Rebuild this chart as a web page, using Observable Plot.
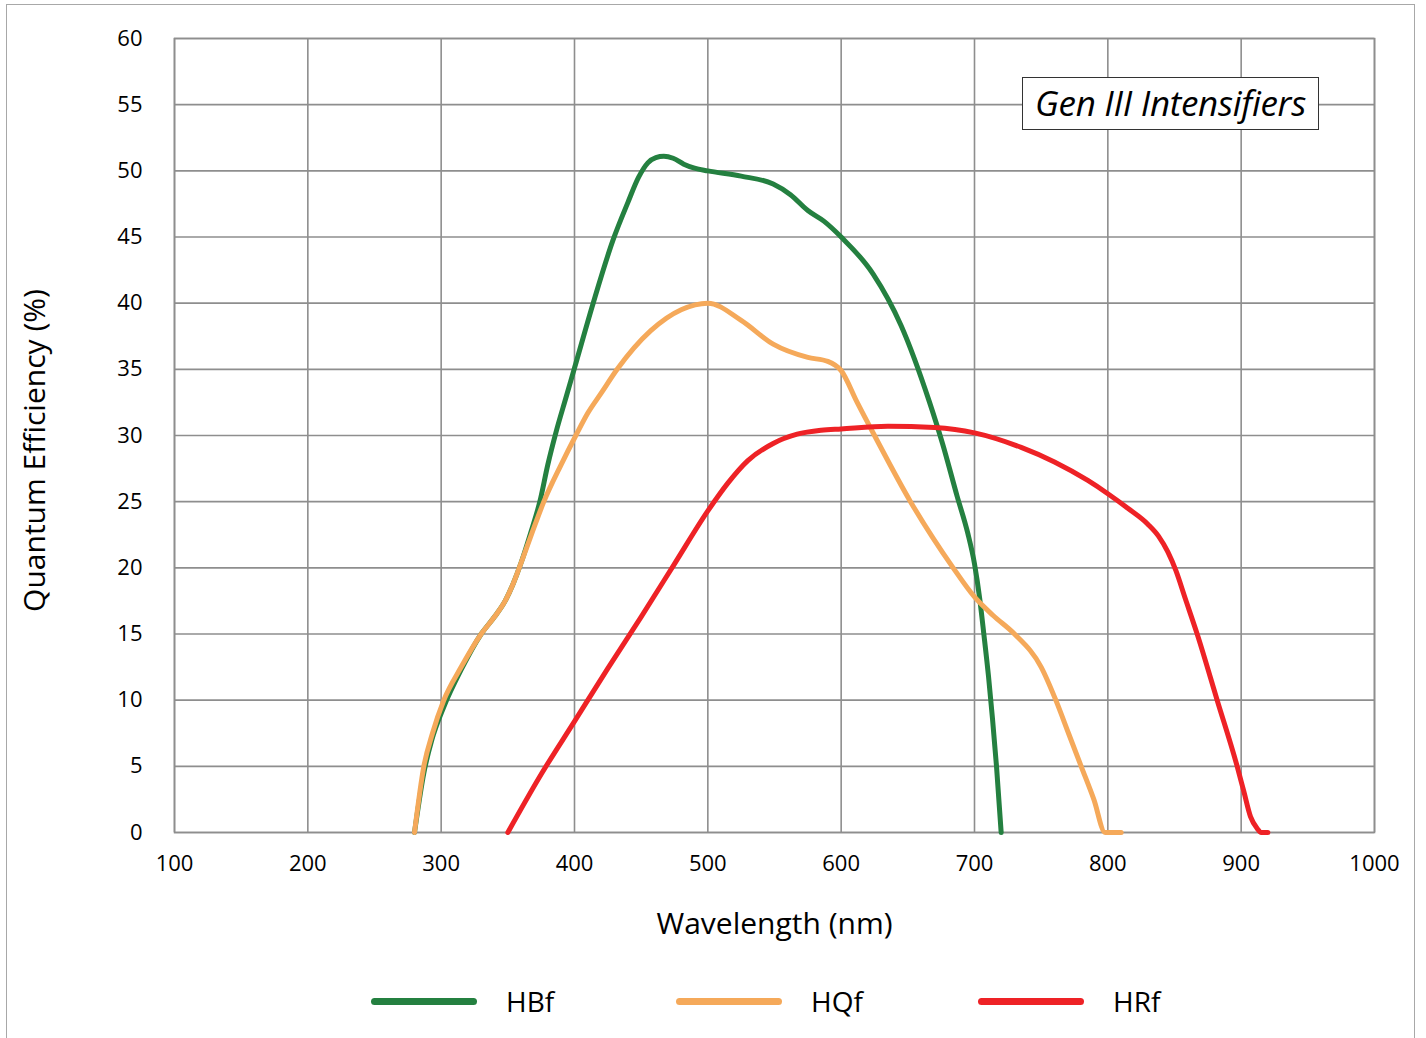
<!DOCTYPE html>
<html>
<head>
<meta charset="utf-8">
<script src="https://cdn.jsdelivr.net/npm/d3@7"></script>
<script src="https://cdn.jsdelivr.net/npm/@observablehq/plot@0.6"></script>
<style>
  html, body { margin: 0; padding: 0; background: #fff; }
  body { width: 1426px; height: 1038px; position: relative; overflow: hidden; font-family: "Open Sans", sans-serif; }
  #border { position: absolute; left: 6px; top: 4px; width: 1409px; height: 1100px; border: 1.5px solid #a8a8a8; box-sizing: border-box; }
  #chart { position: absolute; left: 0; top: 0; }
  #titlebox { position: absolute; left: 1022px; top: 77px; width: 297px; height: 53px; border: 1.3px solid #333; background: #fff; box-sizing: border-box;
    font-style: italic; font-size: 35px; line-height: 49px; text-align: center; color: #000; letter-spacing: -0.3px; white-space: nowrap; }
  #legend { position: absolute; left: 371px; top: 981px; display: flex; }
  .item { display: flex; align-items: center; width: 305px; height: 40px; }
  .item:nth-child(2) { width: 302px; }
  .swatch { width: 106px; height: 7px; border-radius: 4px; }
  .lab { margin-left: 29px; font-size: 28px; color: #000; }
</style>
</head>
<body>
<div id="border"></div>
<div id="chart"></div>
<div id="titlebox">Gen III Intensifiers</div>
<div id="legend"></div>
<script>
// ---- data ----
const seriesNames = ["HBf", "HQf", "HRf"];
const seriesColors = ["#248040", "#f5a95a", "#ee2226"];

const hbfWavelength = [280, 287, 293, 302, 315, 330, 340, 348, 354, 360, 367, 374, 380, 386, 394, 400, 414, 429, 440, 448, 455, 461, 467, 474, 482, 490, 500, 525, 549, 562, 575, 587, 600, 624, 645, 666, 676, 687, 695, 700, 704, 707, 710.5, 713.5, 716.5, 720];
const hbfQE         = [0, 4.5, 7, 9.5, 12.3, 15, 16.3, 17.5, 18.8, 20.4, 22.6, 25, 27.8, 30.2, 33, 35.1, 40, 44.8, 47.6, 49.5, 50.6, 51.0, 51.1, 50.95, 50.5, 50.2, 50, 49.6, 49, 48.2, 47, 46.2, 45, 42.2, 38.3, 32.6, 29.4, 25.4, 22.6, 20.3, 17.6, 15, 11.8, 8.6, 5, 0];

const hqfWavelength = [280, 287, 293.5, 302, 315, 330, 340, 348, 354, 360, 368, 377, 390, 401, 410, 420, 432, 457, 480, 500, 525, 549, 575, 590, 600, 612, 625, 652, 684, 700, 714, 730, 750, 761, 770.5, 780, 789.5, 798, 810];
const hqfQE         = [0, 5, 7.5, 10, 12.5, 15, 16.3, 17.5, 18.8, 20.4, 22.6, 25, 27.8, 30, 31.7, 33.2, 35, 37.9, 39.5, 40, 38.7, 36.9, 35.9, 35.6, 34.9, 32.5, 30, 25, 20, 17.8, 16.4, 15, 12.5, 10, 7.5, 5, 2.5, 0, 0];

const hrfWavelength = [350, 375, 400, 425, 450, 475, 500, 515, 530, 549, 567, 585, 600, 635, 670, 700, 735, 760, 785, 800, 815, 830, 838, 845, 851, 858, 867, 882, 897, 902, 907, 912, 915, 920];
const hrfQE         = [0, 4.4, 8.4, 12.4, 16.3, 20.3, 24.3, 26.4, 28.1, 29.4, 30.1, 30.4, 30.5, 30.7, 30.6, 30.2, 29.1, 28, 26.6, 25.6, 24.5, 23.3, 22.4, 21.2, 19.8, 17.7, 15, 10, 5, 3.1, 1.2, 0.3, 0, 0];

const xTicks = [100, 200, 300, 400, 500, 600, 700, 800, 900, 1000];
const yTicks = [0, 5, 10, 15, 20, 25, 30, 35, 40, 45, 50, 55, 60];
const xLabel = ["Wavelength (nm)"];
const yLabel = ["Quantum Efficiency (%)"];

// build table
const wl = [hbfWavelength, hqfWavelength, hrfWavelength];
const qe = [hbfQE, hqfQE, hrfQE];
const rows = [];
seriesNames.forEach((name, i) => {
  wl[i].forEach((w, j) => rows.push({series: name, wavelength: w, qe: qe[i][j]}));
});

const W = 1426, H = 960;
const chart = Plot.plot({
  width: W,
  height: H,
  marginLeft: 174,
  marginRight: 52,
  marginTop: 38,
  marginBottom: H - 832,
  style: { fontFamily: "'Open Sans', sans-serif", fontSize: "22px", color: "#000", background: "transparent" },
  x: { domain: [100, 1000] },
  y: { domain: [0, 60] },
  color: { domain: seriesNames, range: seriesColors },
  marks: [
    Plot.gridX(xTicks, { stroke: "#8e8e8e", strokeOpacity: 1, strokeWidth: 1.6 }),
    Plot.gridY(yTicks, { stroke: "#8e8e8e", strokeOpacity: 1, strokeWidth: 1.6 }),
    Plot.frame({ stroke: "#8e8e8e", strokeWidth: 1.6 }),
    Plot.axisX(xTicks, { tickSize: 0, tickPadding: 23, label: null, fontSize: 22, tickFormat: d => String(d) }),
    Plot.axisY(yTicks, { tickSize: 0, tickPadding: 32, label: null, fontSize: 22, tickFormat: d => String(d) }),
    Plot.line(rows, { x: "wavelength", y: "qe", z: "series", stroke: "series", strokeWidth: 5, curve: "monotone-x", strokeLinecap: "round", strokeLinejoin: "round" }),
    Plot.text(xLabel, { text: d => d, frameAnchor: "bottom", textAnchor: "middle", dy: 92, lineAnchor: "middle", fontSize: 30, fill: "#000" }),
    Plot.text(yLabel, { text: d => d, frameAnchor: "left", textAnchor: "middle", rotate: -90, dx: -139, dy: 15, lineAnchor: "middle", fontSize: 30, fill: "#000" })
  ]
});
document.getElementById("chart").appendChild(chart);

// legend
const legend = d3.select("#legend");
seriesNames.forEach((name, i) => {
  const it = legend.append("div").attr("class", "item");
  it.append("div").attr("class", "swatch").style("background", seriesColors[i]);
  it.append("div").attr("class", "lab").text(name);
});
</script>
</body>
</html>
